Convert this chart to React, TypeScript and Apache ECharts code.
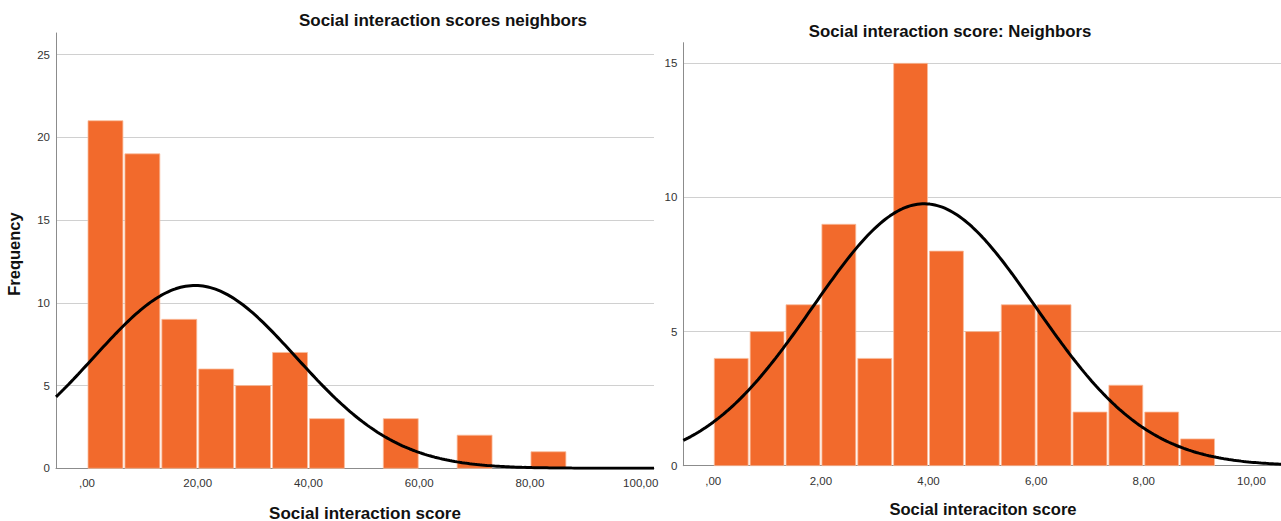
import React, { useEffect, useRef } from "react";
import * as echarts from "echarts";

const FONT = 'Arial, "Liberation Sans", Helvetica, sans-serif';
const BAR = "#f26a2c";
const BAR_EDGE = "#f9bc9c";
const GRID = "#d0d0d0";
const AXIS = "#8c8c8c";

// Left histogram: Social interaction scores neighbors
const leftTitle = "Social interaction scores neighbors";
const leftXName = "Social interaction score";
const leftBinStart = 0;
const leftBinWidth = 20 / 3;
const leftCounts = [21, 19, 9, 6, 5, 7, 3, 0, 3, 0, 2, 0, 1];
const leftNormal = { mean: 19.5, sd: 18.3, n: 76 };
const leftXRange = [-5.6, 102.4];
const leftXTicks = [0, 20, 40, 60, 80, 100];
const leftYMax = 26.3;

// Right histogram: Social interaction score: Neighbors
const rightTitle = "Social interaction score: Neighbors";
const rightXName = "Social interaciton score";
const rightBinStart = 0;
const rightBinWidth = 2 / 3;
const rightCounts = [4, 5, 6, 9, 4, 15, 8, 5, 6, 6, 2, 3, 2, 1];
const rightNormal = { mean: 3.92, sd: 2.07, n: 76 };
const rightXRange = [-0.557, 10.55];
const rightXTicks = [0, 2, 4, 6, 8, 10];
const rightYMax = 15.77;

const yName = "Frequency";

function bins(start: number, width: number, counts: number[]) {
  return counts.map((c, i) => [start + i * width, start + (i + 1) * width, c]);
}

function normalCurve(p: { mean: number; sd: number; n: number }, width: number, range: number[]) {
  const pts: number[][] = [];
  const steps = 240;
  for (let i = 0; i <= steps; i++) {
    const x = range[0] + ((range[1] - range[0]) * i) / steps;
    const z = (x - p.mean) / p.sd;
    const y = (p.n * width) / (p.sd * Math.sqrt(2 * Math.PI)) * Math.exp(-0.5 * z * z);
    pts.push([x, y]);
  }
  return pts;
}

const fmtX = (v: number) => {
  if (Math.abs(v) < 1e-9) return ",00";
  return v.toFixed(2).replace(".", ",");
};

const renderBar = (params: any, api: any) => {
  const x0 = api.value(0);
  const x1 = api.value(1);
  const c = api.value(2);
  if (!c) return null;
  const p0 = api.coord([x0, c]);
  const p1 = api.coord([x1, 0]);
  return {
    type: "rect",
    shape: { x: p0[0] + 1, y: p0[1], width: p1[0] - p0[0] - 2, height: p1[1] - p0[1] },
    style: { fill: BAR, stroke: BAR_EDGE, lineWidth: 0.8 },
  };
};

function xAxisCfg(gridIndex: number, range: number[], ticks: number[]) {
  return {
    type: "value",
    gridIndex,
    min: range[0],
    max: range[1],
    axisLine: { show: true, onZero: false, lineStyle: { color: AXIS, width: 1 } },
    axisTick: { show: false },
    splitLine: { show: false },
    axisLabel: {
      customValues: ticks,
      formatter: fmtX,
      fontFamily: FONT,
      fontSize: 11.5,
      color: "#333",
      margin: 9,
    },
  };
}

function yAxisCfg(gridIndex: number, max: number) {
  return {
    type: "value",
    gridIndex,
    min: 0,
    max,
    interval: 5,
    axisLine: { show: true, onZero: false, lineStyle: { color: AXIS, width: 1 } },
    axisTick: { show: false },
    splitLine: { show: true, showMaxLine: false, showMinLine: false, lineStyle: { color: GRID, width: 1.2 } },
    axisLabel: {
      showMaxLabel: false,
      fontFamily: FONT,
      fontSize: 11.5,
      color: "#333",
      margin: 6,
    },
  };
}

export default function App() {
  const ref = useRef<HTMLDivElement>(null);
  useEffect(() => {
    const chart = echarts.init(ref.current!, null, { renderer: "svg" });
    const option: any = {
      animation: false,
      backgroundColor: "#ffffff",
      textStyle: { fontFamily: FONT },
      grid: [
        { left: 56, top: 33, width: 598, height: 435.3 },
        { left: 683.3, top: 42.7, width: 598, height: 423 },
      ],
      xAxis: [xAxisCfg(0, leftXRange, leftXTicks), xAxisCfg(1, rightXRange, rightXTicks)],
      yAxis: [yAxisCfg(0, leftYMax), yAxisCfg(1, rightYMax)],
      graphic: [
        {
          type: "text",
          x: 443,
          y: 20,
          style: { text: leftTitle, font: `bold 17px ${FONT}`, fill: "#111", align: "center", verticalAlign: "middle" },
        },
        {
          type: "text",
          x: 950,
          y: 31,
          style: { text: rightTitle, font: `bold 16.8px ${FONT}`, fill: "#111", align: "center", verticalAlign: "middle" },
        },
        {
          type: "text",
          x: 365,
          y: 513,
          style: { text: leftXName, font: `bold 17px ${FONT}`, fill: "#111", align: "center", verticalAlign: "middle" },
        },
        {
          type: "text",
          x: 983,
          y: 509,
          style: { text: rightXName, font: `bold 16.6px ${FONT}`, fill: "#111", align: "center", verticalAlign: "middle" },
        },
        {
          type: "text",
          x: 14,
          y: 254,
          rotation: Math.PI / 2,
          style: { text: yName, font: `bold 16.5px ${FONT}`, fill: "#111", align: "center", verticalAlign: "middle" },
        },
      ],
      series: [
        {
          type: "custom",
          xAxisIndex: 0,
          yAxisIndex: 0,
          renderItem: renderBar,
          encode: { x: [0, 1], y: 2 },
          data: bins(leftBinStart, leftBinWidth, leftCounts),
          z: 2,
        },
        {
          type: "line",
          xAxisIndex: 0,
          yAxisIndex: 0,
          data: normalCurve(leftNormal, leftBinWidth, leftXRange),
          showSymbol: false,
          smooth: false,
          clip: true,
          lineStyle: { color: "#000", width: 3 },
          z: 3,
        },
        {
          type: "custom",
          xAxisIndex: 1,
          yAxisIndex: 1,
          renderItem: renderBar,
          encode: { x: [0, 1], y: 2 },
          data: bins(rightBinStart, rightBinWidth, rightCounts),
          z: 2,
        },
        {
          type: "line",
          xAxisIndex: 1,
          yAxisIndex: 1,
          data: normalCurve(rightNormal, rightBinWidth, rightXRange),
          showSymbol: false,
          smooth: false,
          clip: true,
          lineStyle: { color: "#000", width: 3 },
          z: 3,
        },
      ],
    };
    chart.setOption(option);
    return () => chart.dispose();
  }, []);
  return (
    <div
      ref={ref}
      style={{ position: "absolute", left: 0, top: 0, width: 1281, height: 521, background: "#fff" }}
    />
  );
}
